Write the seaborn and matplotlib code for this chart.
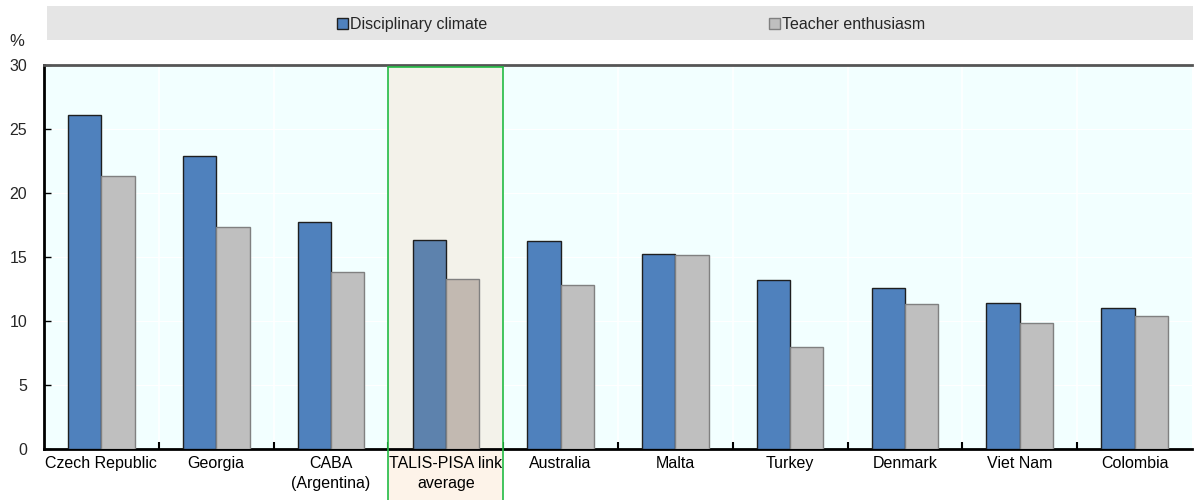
import matplotlib
matplotlib.use("Agg")
import matplotlib.pyplot as plt
import seaborn as sns
import pandas as pd
from matplotlib.patches import Rectangle
from matplotlib.lines import Line2D

countries = ["Czech Republic", "Georgia", "CABA\n(Argentina)", "TALIS-PISA link\naverage",
             "Australia", "Malta", "Turkey", "Denmark", "Viet Nam", "Colombia"]
disciplinary = [26.1, 22.9, 17.7, 16.3, 16.25, 15.2, 13.2, 12.6, 11.4, 11.0]
enthusiasm = [21.3, 17.35, 13.85, 13.3, 12.85, 15.15, 7.95, 11.3, 9.85, 10.4]
series = ["Disciplinary climate", "Teacher enthusiasm"]
highlight = "TALIS-PISA link\naverage"

df = pd.DataFrame({
    "country": countries * 2,
    "value": disciplinary + enthusiasm,
    "series": [series[0]] * len(countries) + [series[1]] * len(countries),
})

sns.set_theme(style="white")
plt.rcParams["font.family"] = ["Liberation Sans", "DejaVu Sans"]

FS = 11.5
fig = plt.figure(figsize=(12, 5), dpi=100)
ax = fig.add_axes([0.0367, 0.102, 0.9566, 0.768])
ax.set_facecolor("#F2FFFF")

palette = {series[0]: "#4F81BD", series[1]: "#BFBFBF"}
sns.barplot(data=df, x="country", y="value", hue="series", order=countries,
            hue_order=series, palette=palette, width=0.58, gap=0,
            saturation=1, legend=False, ax=ax, zorder=3)

n = len(countries)
hi = countries.index(highlight)
for i, p in enumerate(ax.patches[:2 * n]):
    s = i // n
    c = i % n
    if s == 0:
        p.set_edgecolor("#1F1F1F")
        if c == hi:
            p.set_facecolor("#5D82AD")
    else:
        p.set_edgecolor("#808080")
        if c == hi:
            p.set_facecolor("#C2B9B1")
    p.set_linewidth(1.0)

ax.set_xlim(-0.5, n - 0.5)
ax.set_ylim(0, 30)
ax.set_yticks(range(0, 31, 5))
ax.set_xlabel("")
ax.set_ylabel("")

ax.set_xticks([i + 0.5 for i in range(n - 1)], minor=True)
ax.grid(True, which="minor", axis="x", color="white", linewidth=1.2, zorder=1)
ax.grid(True, which="major", axis="y", color="#FFFFFF", linewidth=0.8, zorder=1)
ax.set_axisbelow(True)

ax.tick_params(axis="x", which="major", length=0, labelsize=FS, pad=5, colors="black")
ax.tick_params(axis="x", which="minor", direction="in", length=5, width=1.5, color="black", bottom=True)
ax.tick_params(axis="y", which="major", direction="in", length=5, width=1, color="black",
               left=True, labelsize=FS, pad=12)
for lab in ax.get_xticklabels():
    lab.set_linespacing(1.4)

for side in ["left", "bottom"]:
    ax.spines[side].set_visible(True)
    ax.spines[side].set_color("black")
    ax.spines[side].set_linewidth(2)
ax.spines["top"].set_color("#555555")
ax.spines["top"].set_linewidth(2)
ax.spines["right"].set_visible(False)

ax.add_patch(Rectangle((hi - 0.5, 0), 1.0, 29.85, facecolor="#F3F2EA", edgecolor="none", zorder=2))
trans = ax.get_xaxis_transform()
ax.add_patch(Rectangle((hi - 0.5, -0.2), 1.0, 0.2, transform=trans, facecolor="#FDF3E9",
                       edgecolor="none", zorder=0, clip_on=False))
for xv in (hi - 0.5, hi + 0.5):
    ax.add_line(Line2D([xv, xv], [-0.2, 0.995], transform=trans, color="#22BB44",
                       linewidth=1.2, zorder=6, clip_on=False))
ax.add_line(Line2D([hi - 0.5, hi + 0.5], [0.995, 0.995], transform=trans, color="#22BB44",
                   linewidth=1.2, zorder=6, clip_on=False))

fig.text(0.008, 0.918, "%", fontsize=FS + 0.5, ha="left", va="center")

fig.patches.append(Rectangle((0.039, 0.92), 0.955, 0.068, transform=fig.transFigure,
                             facecolor="#E5E5E5", edgecolor="none", zorder=0))
handles = [Rectangle((0, 0), 1, 1, facecolor=palette[series[0]], edgecolor="#1F1F1F", linewidth=1),
           Rectangle((0, 0), 1, 1, facecolor=palette[series[1]], edgecolor="#808080", linewidth=1)]
fig.legend(handles, series, loc="center", bbox_to_anchor=(0.526, 0.951), ncol=2,
           frameon=False, fontsize=FS, handlelength=0.7, handleheight=0.7,
           handletextpad=0.15, columnspacing=17.6)

fig.savefig("out.png", dpi=100)
